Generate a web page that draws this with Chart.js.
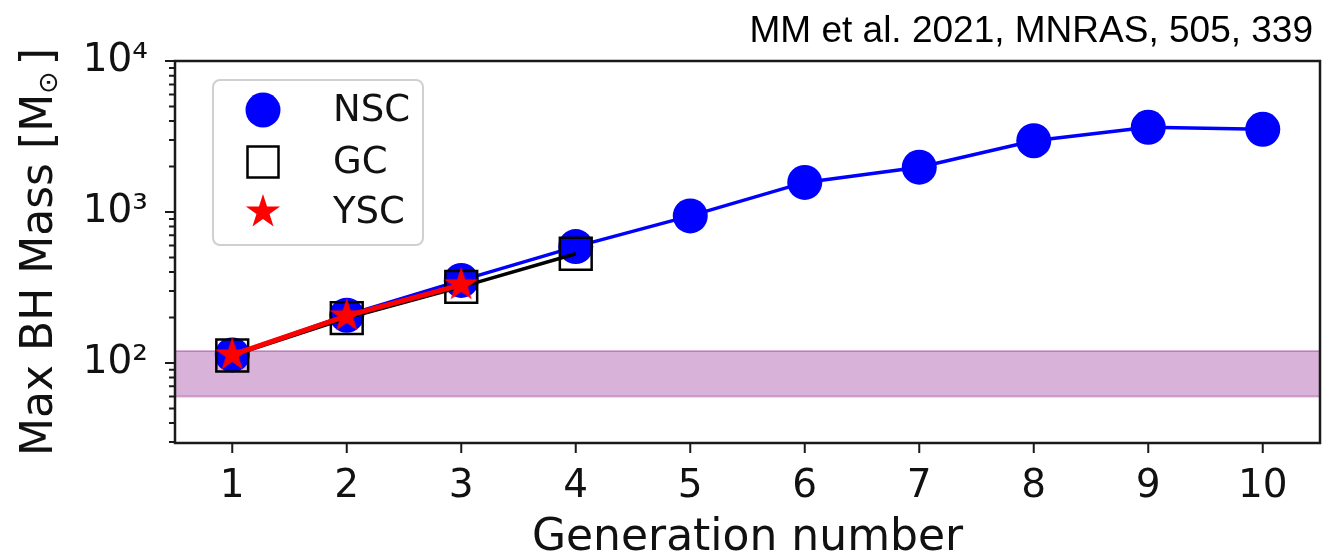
<!DOCTYPE html>
<html>
<head>
<meta charset="utf-8">
<style>
  html, body { margin: 0; padding: 0; background: #fff; }
  #wrap { width: 1338px; height: 560px; position: relative; }
</style>
<script src="https://cdn.jsdelivr.net/npm/chart.js@4.4.1/dist/chart.umd.min.js"></script>
</head>
<body>
<div id="wrap"><canvas id="c" width="1338" height="560"></canvas></div>
<script>
// Maximum black-hole mass reached at each hierarchical merger generation
const GENERATIONS = [1, 2, 3, 4, 5, 6, 7, 8, 9, 10];
const NSC_MAX = [113, 207, 352, 590, 942, 1570, 1980, 2965, 3640, 3530];
const GC_MAX = [112, 198, 319, 529];
const YSC_MAX = [113, 205, 329];

// Shaded mass range (Msun)
const BAND = [60, 120];

// Axes
const X_RANGE = [0.5, 10.5];
const Y_RANGE = [29.5, 10000];
const Y_MAJOR = [100, 1000, 10000];
const Y_MAJOR_LABELS = ['10²', '10³', '10⁴'];

const LEGEND_LABELS = ['NSC', 'GC', 'YSC'];
const CITATION = 'MM et al. 2021, MNRAS, 505, 339';

const FONT = 'DejaVu Sans';
const INK = '#111';

// filled five-pointed star marker
function starCanvas(R, color) {
  const s = 2 * Math.ceil(R) + 4;
  const c = document.createElement('canvas');
  c.width = s; c.height = s;
  const g = c.getContext('2d');
  const r = R * 0.381966;
  g.beginPath();
  for (let i = 0; i < 10; i++) {
    const a = -Math.PI / 2 + i * Math.PI / 5;
    const rad = i % 2 === 0 ? R : r;
    const px = s / 2 + rad * Math.cos(a);
    const py = s / 2 + rad * Math.sin(a);
    if (i === 0) g.moveTo(px, py); else g.lineTo(px, py);
  }
  g.closePath();
  g.fillStyle = color;
  g.fill();
  return c;
}
const STAR = starCanvas(18, '#ff0000');

function points(ys) {
  return ys.map((v, i) => ({ x: GENERATIONS[i], y: v }));
}

// minor + major ticks for the log axis
function logTicks(lo, hi) {
  const out = [];
  for (let d = 10; d <= hi; d *= 10) {
    for (let k = 1; k <= 9; k++) {
      const v = k * d;
      if (v >= lo && v <= hi) out.push(v);
    }
  }
  return out;
}
const Y_TICKS = logTicks(Y_RANGE[0], Y_RANGE[1]);

const bandPlugin = {
  id: 'band',
  beforeDatasetsDraw(chart) {
    const { ctx, chartArea: a, scales: { y } } = chart;
    const top = y.getPixelForValue(BAND[1]);
    const bot = y.getPixelForValue(BAND[0]);
    ctx.save();
    ctx.fillStyle = 'rgba(128,0,128,0.3)';
    ctx.fillRect(a.left, top, a.right - a.left, bot - top);
    ctx.strokeStyle = 'rgba(128,0,128,0.3)';
    ctx.lineWidth = 2;
    ctx.beginPath();
    ctx.moveTo(a.left, top); ctx.lineTo(a.right, top);
    ctx.moveTo(a.left, bot); ctx.lineTo(a.right, bot);
    ctx.stroke();
    ctx.restore();
  }
};

const framePlugin = {
  id: 'frame',
  afterDraw(chart) {
    const { ctx, chartArea: a, scales: { x, y } } = chart;
    ctx.save();
    ctx.strokeStyle = '#1a1a1a';
    ctx.lineWidth = 2;
    ctx.beginPath();
    y.ticks.forEach(t => {
      const py = y.getPixelForValue(t.value);
      const len = Y_MAJOR.includes(t.value) ? 10 : 6;
      ctx.moveTo(a.left - len, py); ctx.lineTo(a.left, py);
    });
    x.ticks.forEach(t => {
      const px = x.getPixelForValue(t.value);
      ctx.moveTo(px, a.bottom); ctx.lineTo(px, a.bottom + 10);
    });
    ctx.stroke();
    ctx.lineWidth = 2.5;
    ctx.strokeRect(a.left, a.top, a.right - a.left, a.bottom - a.top);
    ctx.restore();
  }
};

const legendPlugin = {
  id: 'boxLegend',
  afterDatasetsDraw(chart) {
    const { ctx } = chart;
    const bx = 213, by = 80, bw = 210, bh = 165;
    ctx.save();
    ctx.beginPath();
    ctx.roundRect(bx, by, bw, bh, 7);
    ctx.fillStyle = 'rgba(255,255,255,0.85)';
    ctx.fill();
    ctx.strokeStyle = '#d0d0d0';
    ctx.lineWidth = 2;
    ctx.stroke();

    const mx = 263, rows = [110, 162, 212], tx = 333;
    // NSC
    ctx.beginPath();
    ctx.arc(mx, rows[0], 17.5, 0, Math.PI * 2);
    ctx.fillStyle = '#0000ff';
    ctx.fill();
    // GC
    ctx.strokeStyle = '#000';
    ctx.lineWidth = 2.5;
    ctx.strokeRect(mx - 15.5, rows[1] - 15.5, 31, 31);
    // YSC
    ctx.drawImage(STAR, mx - STAR.width / 2, rows[2] - STAR.height / 2);

    ctx.fillStyle = INK;
    ctx.font = `37px "${FONT}"`;
    ctx.textAlign = 'left';
    ctx.textBaseline = 'middle';
    LEGEND_LABELS.forEach((t, i) => ctx.fillText(t, tx, rows[i] + 1));
    ctx.restore();
  }
};

const textPlugin = {
  id: 'texts',
  afterDraw(chart) {
    const { ctx, chartArea: a } = chart;
    ctx.save();
    // citation
    ctx.fillStyle = '#000';
    ctx.font = '37px "Liberation Sans"';
    ctx.textAlign = 'right';
    ctx.textBaseline = 'alphabetic';
    ctx.fillText(CITATION, 1313, 42);

    // y-axis title with subscripted solar symbol
    const big = `44px "${FONT}"`, small = `27px "${FONT}"`;
    const p1 = 'Max BH Mass [M', p2 = '\u2299', p3 = ']';
    ctx.font = big;
    const w1 = ctx.measureText(p1).width;
    const w3 = ctx.measureText(p3).width;
    ctx.font = small;
    const w2 = ctx.measureText(p2).width;
    const gap = 6;
    const total = w1 + w2 + gap + w3;
    ctx.translate(52, (a.top + a.bottom) / 2);
    ctx.rotate(-Math.PI / 2);
    ctx.fillStyle = INK;
    ctx.textAlign = 'left';
    let cx = -total / 2;
    ctx.font = big;
    ctx.fillText(p1, cx, 0);
    cx += w1;
    ctx.font = small;
    ctx.fillText(p2, cx, 5);
    cx += w2 + gap;
    ctx.font = big;
    ctx.fillText(p3, cx, 0);
    ctx.restore();
  }
};

new Chart(document.getElementById('c'), {
  type: 'line',
  data: {
    datasets: [
      {
        label: LEGEND_LABELS[0],
        data: points(NSC_MAX),
        borderColor: '#0000ff',
        borderWidth: 3.5,
        backgroundColor: '#0000ff',
        pointStyle: 'circle',
        pointRadius: 17.5,
        pointHoverRadius: 17.5,
        pointBorderWidth: 0,
        pointBackgroundColor: '#0000ff',
        order: 3
      },
      {
        label: LEGEND_LABELS[1],
        data: points(GC_MAX),
        borderColor: '#000000',
        borderWidth: 3.5,
        pointStyle: 'rect',
        pointRadius: 22.5,
        pointHoverRadius: 22.5,
        pointBorderWidth: 2.5,
        pointBorderColor: '#000000',
        pointBackgroundColor: 'rgba(0,0,0,0)',
        order: 2
      },
      {
        label: LEGEND_LABELS[2],
        data: points(YSC_MAX),
        borderColor: '#ff0000',
        borderWidth: 5,
        pointStyle: STAR,
        pointRadius: 18,
        pointHoverRadius: 18,
        order: 1
      }
    ]
  },
  options: {
    responsive: false,
    animation: false,
    events: [],
    layout: { autoPadding: false, padding: { left: 0, right: 18, top: 61, bottom: 0 } },
    plugins: {
      legend: { display: false },
      tooltip: { enabled: false },
      title: { display: false }
    },
    scales: {
      x: {
        type: 'linear',
        min: X_RANGE[0],
        max: X_RANGE[1],
        afterBuildTicks(scale) {
          scale.ticks = GENERATIONS.map(v => ({ value: v }));
        },
        afterFit(scale) {
          scale.height = 117;
          scale.paddingLeft = 0;
          scale.paddingRight = 0;
        },
        grid: { display: false, drawTicks: false },
        border: { display: false },
        ticks: {
          autoSkip: false,
          maxRotation: 0,
          padding: 24,
          color: INK,
          font: { family: FONT, size: 39, lineHeight: 1 },
          callback: v => String(v)
        },
        title: {
          display: true,
          text: 'Generation number',
          color: INK,
          font: { family: FONT, size: 44, lineHeight: 1 },
          padding: { top: 0, bottom: -1 }
        }
      },
      y: {
        type: 'logarithmic',
        min: Y_RANGE[0],
        max: Y_RANGE[1],
        afterBuildTicks(scale) {
          scale.ticks = Y_TICKS.map(v => ({ value: v }));
        },
        afterFit(scale) {
          scale.width = 175;
          scale.paddingTop = 0;
          scale.paddingBottom = 0;
        },
        grid: { display: false, drawTicks: false },
        border: { display: false },
        ticks: {
          autoSkip: false,
          padding: 27,
          color: INK,
          font: { family: FONT, size: 39, lineHeight: 1 },
          callback: v => {
            const i = Y_MAJOR.indexOf(v);
            return i >= 0 ? Y_MAJOR_LABELS[i] : '';
          }
        }
      }
    }
  },
  plugins: [bandPlugin, legendPlugin, framePlugin, textPlugin]
});
</script>
</body>
</html>
